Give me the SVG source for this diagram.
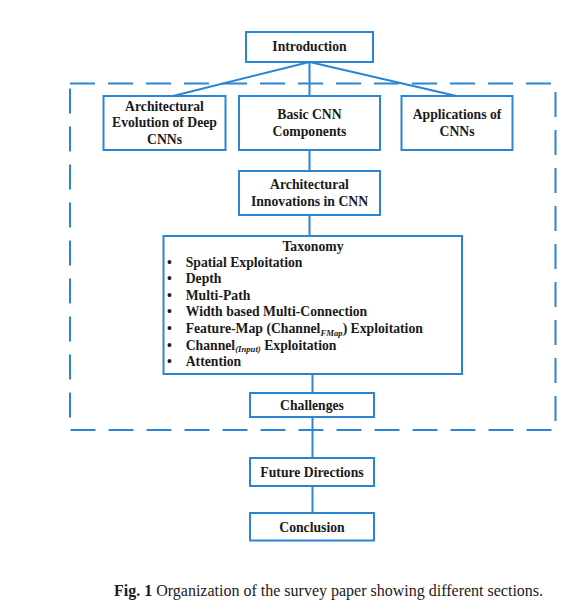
<svg xmlns="http://www.w3.org/2000/svg" width="582" height="611" viewBox="0 0 582 611">
<style>
.box{fill:#fff;stroke:#2a85d4;stroke-width:2}
.ln{stroke:#2a85d4;stroke-width:2;fill:none}
.t{font-family:"Liberation Serif","Times New Roman",serif;font-weight:bold;font-size:13.7px;fill:#1a1a1a;text-anchor:middle}
.l{font-family:"Liberation Serif","Times New Roman",serif;font-weight:bold;font-size:13.7px;fill:#1a1a1a}
.b{font-family:"Liberation Serif","Times New Roman",serif;font-weight:bold;font-size:13.7px;fill:#1a1a1a;text-anchor:middle}
.cap{font-family:"Liberation Serif","Times New Roman",serif;font-size:16px;fill:#1a1a1a}
</style>
<rect width="582" height="611" fill="#fff"/>
<rect x="70" y="83.5" width="485.5" height="346.5" fill="none" stroke="#2a85d4" stroke-width="2" stroke-dasharray="25 13"/>
<g id="connectors">
<line class="ln" x1="309.5" y1="62" x2="173" y2="96"/>
<line class="ln" x1="309.5" y1="62" x2="309.5" y2="96"/>
<line class="ln" x1="309.5" y1="62" x2="456.5" y2="96"/>
<line class="ln" x1="309.5" y1="150" x2="309.5" y2="171"/>
<line class="ln" x1="309.5" y1="215" x2="309.5" y2="236"/>
<line class="ln" x1="312.5" y1="374" x2="312.5" y2="393"/>
<line class="ln" x1="312.5" y1="417" x2="312.5" y2="458"/>
<line class="ln" x1="312.5" y1="486" x2="312.5" y2="513"/>
</g>
<g id="introduction">
<rect class="box" x="246" y="32" width="127" height="30"/>
<text class="t" x="309.5" y="51">Introduction</text>
</g>
<g id="evolution">
<rect class="box" x="103.5" y="96" width="122" height="54"/>
<text class="t" x="164.5" y="110.7">Architectural</text>
<text class="t" x="164.5" y="127.3">Evolution of Deep</text>
<text class="t" x="164.5" y="143.5">CNNs</text>
</g>
<g id="basic">
<rect class="box" x="239" y="96" width="141" height="54"/>
<text class="t" x="309.5" y="119.3">Basic CNN</text>
<text class="t" x="309.5" y="135.8">Components</text>
</g>
<g id="applications">
<rect class="box" x="401.5" y="96" width="111" height="54"/>
<text class="t" x="457" y="119.3">Applications of</text>
<text class="t" x="457" y="135.8">CNNs</text>
</g>
<g id="innovations">
<rect class="box" x="239" y="171" width="141" height="44"/>
<text class="t" x="309.5" y="188.5">Architectural</text>
<text class="t" x="309.5" y="205.7">Innovations in CNN</text>
</g>
<g id="taxonomy">
<rect class="box" x="163.5" y="236" width="298.5" height="138"/>
<text class="t" x="313" y="250.7">Taxonomy</text>
<g class="b">
<text x="169.5" y="266.5">•</text>
<text x="169.5" y="283">•</text>
<text x="169.5" y="299.7">•</text>
<text x="169.5" y="316.3">•</text>
<text x="169.5" y="333">•</text>
<text x="169.5" y="349.7">•</text>
<text x="169.5" y="366.3">•</text>
</g>
<text class="l" x="185.7" y="266.5">Spatial Exploitation</text>
<text class="l" x="185.7" y="283">Depth</text>
<text class="l" x="185.7" y="299.7">Multi-Path</text>
<text class="l" x="185.7" y="316.3">Width based Multi-Connection</text>
<text class="l" x="185.7" y="333">Feature-Map (Channel<tspan font-style="italic" font-size="8.7px" dy="2.5">FMap</tspan><tspan dy="-2.5">) Exploitation</tspan></text>
<text class="l" x="185.7" y="349.7">Channel<tspan font-style="italic" font-size="8.7px" dy="2.5">(Input)</tspan><tspan dy="-2.5"> Exploitation</tspan></text>
<text class="l" x="185.7" y="366.3">Attention</text>
</g>
<g id="challenges">
<rect class="box" x="250" y="393" width="124" height="24"/>
<text class="t" x="312" y="409.5">Challenges</text>
</g>
<g id="future">
<rect class="box" x="250" y="458" width="124" height="28"/>
<text class="t" x="312" y="476.5">Future Directions</text>
</g>
<g id="conclusion">
<rect class="box" x="250" y="513" width="124" height="27.5"/>
<text class="t" x="312" y="531.5">Conclusion</text>
</g>
<text class="cap" x="114" y="596"><tspan font-weight="bold">Fig. 1</tspan> Organization of the survey paper showing different sections.</text>
</svg>
